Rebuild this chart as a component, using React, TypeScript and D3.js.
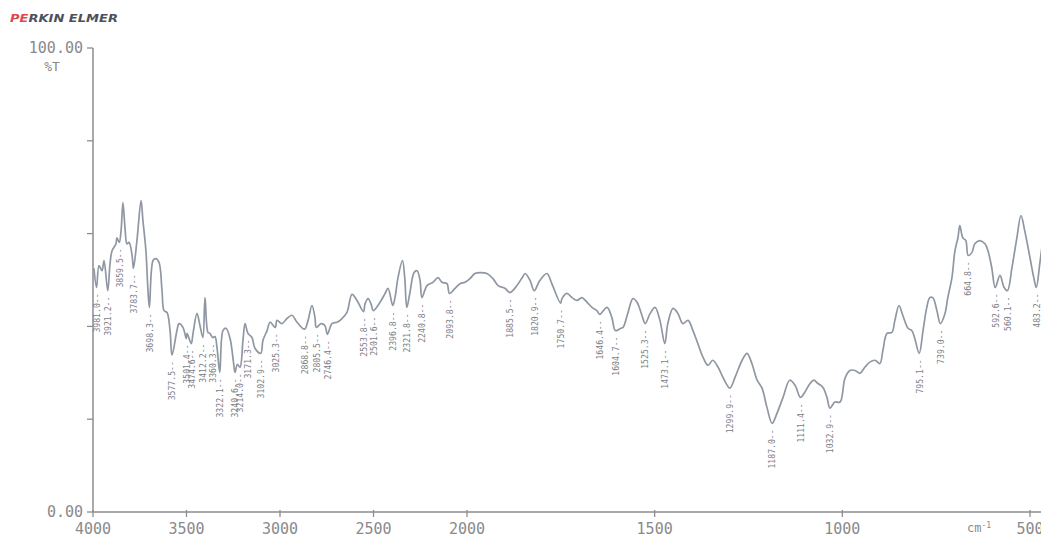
import React from "react";
import * as d3 from "d3";

// IR transmittance spectrum, wavenumber (cm-1) vs %T
const spectrumHigh: [number, number][] = [
  [3995, 52.5], [3981.0, 48.4], [3968, 53.1], [3952, 52.0], [3941, 54.2], [3921.2, 47.7],
  [3909, 53.5], [3898, 56.3], [3877, 57.8], [3872, 59.1], [3859.5, 58.1], [3850, 60.6],
  [3840, 66.7], [3829, 61.3], [3818, 57.8], [3807, 58.1], [3791, 55.3], [3783.7, 52.5],
  [3765, 58.5], [3743, 67.1], [3733, 62.8], [3717, 56.3], [3706, 47.7], [3698.3, 44.1],
  [3679, 54.2], [3665, 54.6], [3647, 53.8], [3631, 47.7], [3620, 43.4], [3604, 43.0],
  [3588, 39.1], [3577.5, 33.8], [3551, 39.1], [3540, 40.6], [3519, 39.8], [3501.4, 37.4],
  [3497, 38.5], [3474.6, 36.3], [3465, 38.5], [3444, 42.8], [3428, 40.2], [3412.2, 37.6],
  [3401, 46.2], [3385, 38.7], [3375, 38.5], [3360.3, 37.6], [3348, 37.8], [3337, 35.5],
  [3322.1, 30.1], [3305, 39.1], [3289, 39.6], [3267, 37.4], [3250, 32.7], [3240.6, 30.1],
  [3228, 31.8], [3214.0, 31.2], [3198, 37.0], [3187, 40.6], [3171.3, 38.5], [3150, 37.6],
  [3134, 35.3], [3102.9, 34.2], [3091, 37.0], [3069, 39.1], [3053, 40.9], [3025.3, 39.8],
  [3016, 41.3], [2989, 40.6], [2963, 41.7], [2936, 42.4], [2909, 40.9], [2868.8, 39.4],
  [2850, 41.3], [2829, 44.5], [2813, 41.9], [2805.5, 39.8], [2780, 40.6], [2760, 40.2],
  [2746.4, 38.3], [2722, 40.6], [2695, 40.9], [2668, 41.7], [2642, 43.0], [2615, 46.9],
  [2588, 45.6], [2553.8, 43.2], [2545, 44.9], [2529, 46.0], [2512, 44.7], [2501.6, 43.4],
  [2465, 45.2], [2438, 47.1], [2422, 48.2], [2396.8, 44.5], [2385, 46.2], [2369, 50.5],
  [2345, 54.2], [2333, 50.5], [2321.8, 44.1], [2306, 47.1], [2283, 51.6], [2267, 52.0],
  [2251, 49.9], [2240.8, 46.2], [2214, 48.8], [2182, 49.5], [2155, 50.5], [2134, 49.5],
  [2107, 49.2], [2093.8, 47.1], [2064, 48.2], [2037, 49.2], [2011, 49.5],
];

const spectrumLow: [number, number][] = [
  [1992, 50.3], [1979, 51.4], [1965, 51.6], [1947, 51.4], [1931, 50.3], [1917, 48.8],
  [1899, 48.2], [1885.5, 47.3], [1867, 48.8], [1853, 50.5], [1845, 51.4], [1832, 49.9],
  [1820.9, 47.7], [1806, 49.9], [1787, 51.4], [1774, 49.2], [1750.7, 45.0], [1747, 46.0],
  [1734, 47.1], [1720, 46.2], [1707, 45.6], [1694, 46.2], [1680, 45.2], [1667, 44.1],
  [1654, 43.4], [1646.4, 42.6], [1627, 44.1], [1614, 41.9], [1604.7, 39.1], [1590, 39.6],
  [1584, 39.8], [1571, 43.0], [1558, 46.0], [1547, 45.2], [1534, 42.4], [1525.3, 40.6],
  [1512, 42.8], [1499, 44.1], [1486, 41.3], [1473.1, 36.3], [1465, 40.6], [1451, 43.9],
  [1438, 42.8], [1425, 40.6], [1411, 41.3], [1398, 39.1], [1385, 36.3], [1371, 33.3],
  [1358, 31.6], [1345, 32.7], [1331, 31.2], [1318, 29.0], [1299.9, 26.7], [1286, 29.0],
  [1267, 32.7], [1254, 34.2], [1241, 32.0], [1227, 28.4], [1214, 26.7], [1201, 22.6],
  [1187.0, 19.1], [1174, 21.3], [1158, 24.7], [1140, 28.4], [1126, 27.3], [1111.4, 24.7],
  [1100, 25.8], [1086, 27.7], [1076, 28.4], [1065, 27.7], [1052, 26.9], [1041, 24.7],
  [1032.9, 22.4], [1020, 23.7], [1006, 23.7], [993, 28.8], [980, 30.5], [966, 30.5],
  [953, 29.9], [940, 31.2], [927, 32.3], [913, 32.7], [900, 32.0], [892, 34.8],
  [881, 38.5], [868, 38.7], [860, 41.3], [849, 44.5], [839, 42.4], [825, 39.6],
  [815, 39.1], [807, 37.4], [795.1, 34.2], [785, 39.1], [775, 44.1], [767, 46.2],
  [759, 46.2], [748, 43.4], [739.0, 40.6], [727, 42.6], [719, 46.2], [708, 50.5],
  [700, 56.3], [692, 59.1], [687, 61.7], [679, 59.1], [671, 58.5], [664.8, 55.3],
  [655, 55.9], [647, 57.8], [634, 58.5], [620, 57.8], [612, 56.3], [602, 52.7],
  [592.6, 48.4], [580, 51.0], [569, 48.4], [560.1, 47.7], [548, 52.7], [535, 59.1],
  [524, 63.9], [514, 60.6], [500, 54.8], [490, 50.5], [483.2, 48.4], [474, 53.5],
  [466, 58.5],
];

// Peak positions printed under the absorption bands
const peakLabels: number[] = [
  3981.0, 3921.2, 3859.5, 3783.7, 3698.3, 3577.5, 3501.4, 3474.6, 3412.2, 3360.3,
  3322.1, 3240.6, 3214.0, 3171.3, 3102.9, 3025.3, 2868.8, 2805.5, 2746.4, 2553.8,
  2501.6, 2396.8, 2321.8, 2240.8, 2093.8, 1885.5, 1820.9, 1750.7, 1646.4, 1604.7,
  1525.3, 1473.1, 1299.9, 1187.0, 1111.4, 1032.9, 795.1, 739.0, 664.8, 592.6,
  560.1, 483.2,
];

const xTicks: number[] = [4000, 3500, 3000, 2500, 2000, 1500, 1000, 500];
const yTicks: number[] = [0, 20, 40, 60, 80, 100];
const yTickLabels: { value: number; text: string }[] = [
  { value: 100, text: "100.00" },
  { value: 0, text: "0.00" },
];

const W = 1041;
const H = 537;
const AXIS = "#8d8d8f";
const TEXT = "#8a8a8c";
const LINE = "#8f97a2";
const MONO = "'DejaVu Sans Mono', monospace";

export default function App() {
  const spectrum = [...spectrumHigh, ...spectrumLow];

  // The instrument compresses the scale above 2000 cm-1 by a factor of two
  const x = d3.scaleLinear().domain([4000, 2000, 500]).range([93, 467, 1030]);
  const y = d3.scaleLinear().domain([0, 100]).range([512, 48]);

  const line = d3
    .line<[number, number]>()
    .x((d) => x(d[0]))
    .y((d) => y(d[1]))
    .curve(d3.curveCatmullRom.alpha(0.5));

  // %T at a given wavenumber, linear between the sampled points
  const tAt = (wn: number) => {
    for (let i = 0; i < spectrum.length - 1; i++) {
      const [w0, t0] = spectrum[i];
      const [w1, t1] = spectrum[i + 1];
      if (wn <= w0 && wn >= w1) {
        const f = (w0 - wn) / (w0 - w1 || 1);
        return t0 + f * (t1 - t0);
      }
    }
    return spectrum[spectrum.length - 1][1];
  };

  const x0 = x(4000);
  const yBase = y(0);

  return (
    <svg
      width={W}
      height={H}
      viewBox={`0 0 ${W} ${H}`}
      style={{ position: "absolute", left: 0, top: 0, background: "#fff" }}
    >
      {/* brand mark */}
      <text
        x={10}
        y={22}
        fontFamily="'DejaVu Sans', sans-serif"
        fontWeight="bold"
        fontStyle="italic"
        fontSize={10.5}
        textLength={108}
        lengthAdjust="spacingAndGlyphs"
      >
        <tspan fill="#e0484e">PE</tspan>
        <tspan fill="#4d4f5a">RKIN ELMER</tspan>
      </text>

      {/* y axis */}
      <line x1={x0} x2={x0} y1={y(100)} y2={yBase} stroke={AXIS} strokeWidth={1.5} />
      {yTicks.map((t) => (
        <line key={t} x1={x0 - 6} x2={x0} y1={y(t)} y2={y(t)} stroke={AXIS} strokeWidth={1.3} />
      ))}
      {yTickLabels.map((d) => (
        <text
          key={d.value}
          x={x0 - 10}
          y={y(d.value)}
          dy="0.35em"
          textAnchor="end"
          fontFamily={MONO}
          fontSize={15}
          fill={TEXT}
        >
          {d.text}
        </text>
      ))}
      <text x={52} y={71} textAnchor="middle" fontFamily={MONO} fontSize={13} fill={TEXT}>
        %T
      </text>

      {/* x axis */}
      <line x1={x0} x2={W} y1={yBase} y2={yBase} stroke={AXIS} strokeWidth={1.5} />
      {xTicks.map((t) => (
        <g key={t}>
          <line x1={x(t)} x2={x(t)} y1={yBase - 2} y2={yBase + 5} stroke={AXIS} strokeWidth={1.3} />
          <text
            x={x(t)}
            y={534}
            textAnchor="middle"
            fontFamily={MONO}
            fontSize={15}
            fill={TEXT}
          >
            {t}
          </text>
        </g>
      ))}
      <text x={967} y={532} fontFamily={MONO} fontSize={12} fill={TEXT}>
        cm
        <tspan dy={-4} fontSize={8}>-1</tspan>
      </text>

      {/* spectrum trace */}
      <path d={line(spectrum) ?? ""} fill="none" stroke={LINE} strokeWidth={1.7} strokeLinejoin="round" />

      {/* band labels, printed vertically beneath each minimum */}
      {peakLabels.map((wn) => {
        const px = x(wn);
        const py = y(tAt(wn)) + 6;
        const label = `${wn.toFixed(1)}--`;
        return (
          <text
            key={wn}
            transform={`translate(${px},${py}) rotate(-90)`}
            textAnchor="end"
            dy="0.35em"
            fontFamily={MONO}
            fontSize={9.5}
            textLength={label.length * 4.9}
            lengthAdjust="spacingAndGlyphs"
            fill="#7d8088"
          >
            {label}
          </text>
        );
      })}
    </svg>
  );
}
